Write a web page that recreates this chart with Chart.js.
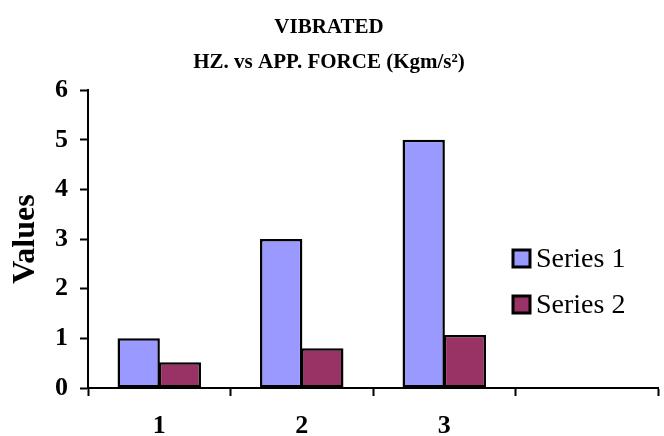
<!DOCTYPE html>
<html>
<head>
<meta charset="utf-8">
<script src="https://cdn.jsdelivr.net/npm/chart.js"></script>
<style>
  html, body { margin: 0; padding: 0; background: #fff; }
  #wrap { width: 664px; height: 436px; }
</style>
</head>
<body>
<div id="wrap"><canvas id="chart" width="664" height="436"></canvas></div>
<script>
// data
const categories = ['1', '2', '3', ''];
const series1 = [1, 3, 5, null];
const series2 = [0.52, 0.8, 1.07, null];
const yTicks = [0, 1, 2, 3, 4, 5, 6];

const FONT = "'Liberation Serif', 'Times New Roman', serif";

// legend sits inside the empty 4th category, like the original
const boxLegend = {
  id: 'boxLegend',
  afterDraw(chart) {
    const ctx = chart.ctx;
    const x = 513, size = 17, rowY = [258.5, 304.5];
    ctx.save();
    ctx.font = '28px ' + FONT;
    ctx.textBaseline = 'middle';
    ctx.textAlign = 'left';
    chart.data.datasets.forEach((ds, i) => {
      const y = rowY[i];
      ctx.fillStyle = ds.backgroundColor;
      ctx.fillRect(x, y - size / 2, size, size);
      ctx.lineWidth = 3;
      ctx.strokeStyle = '#000';
      ctx.strokeRect(x, y - size / 2, size, size);
      ctx.fillStyle = '#000';
      ctx.fillText(ds.label, x + 23, y + 1);
    });
    ctx.restore();
  }
};

Chart.defaults.color = '#000';
Chart.defaults.font.family = FONT;

new Chart(document.getElementById('chart'), {
  type: 'bar',
  data: {
    labels: categories,
    datasets: [
      {
        label: 'Series 1',
        data: series1,
        backgroundColor: '#9999FF',
        borderColor: '#000',
        borderWidth: 2.5,
        borderSkipped: false
      },
      {
        label: 'Series 2',
        data: series2,
        backgroundColor: '#993366',
        borderColor: '#000',
        borderWidth: 2.5,
        borderSkipped: false
      }
    ]
  },
  options: {
    responsive: false,
    animation: false,
    datasets: {
      bar: { categoryPercentage: 0.577, barPercentage: 1.03 }
    },
    layout: { padding: { left: 0, right: 6, top: 0, bottom: 0 } },
    plugins: {
      legend: { display: false },
      tooltip: { enabled: false },
      title: {
        display: true,
        text: ['VIBRATED', 'HZ. vs APP. FORCE (Kgm/s\u00B2)'],
        font: { size: 21, weight: 'bold', family: FONT, lineHeight: 1.67 },
        padding: { top: 10, bottom: 10 },
        color: '#000'
      }
    },
    scales: {
      x: {
        grid: {
          drawOnChartArea: false,
          drawTicks: true,
          tickLength: 8,
          tickColor: '#000',
          tickWidth: 2,
          offset: true
        },
        border: { display: true, color: '#000', width: 2 },
        ticks: {
          font: { size: 26, weight: 'bold', family: FONT },
          padding: 15,
          color: '#000'
        },
        afterFit(scale) { scale.height = 48; }
      },
      y: {
        min: 0,
        max: 6,
        afterBuildTicks(scale) { scale.ticks = yTicks.map(v => ({ value: v })); },
        grid: {
          drawOnChartArea: false,
          drawTicks: true,
          tickLength: 8,
          tickColor: '#000',
          tickWidth: 2
        },
        border: { display: true, color: '#000', width: 2 },
        ticks: {
          font: { size: 26, weight: 'bold', family: FONT },
          padding: 12,
          color: '#000'
        },
        title: {
          display: true,
          text: 'Values',
          font: { size: 32, weight: 'bold', family: FONT, lineHeight: 1.2 },
          padding: { top: 7, bottom: 0 },
          color: '#000'
        },
        afterFit(scale) { scale.width = 88; }
      }
    }
  },
  plugins: [boxLegend]
});
</script>
</body>
</html>
